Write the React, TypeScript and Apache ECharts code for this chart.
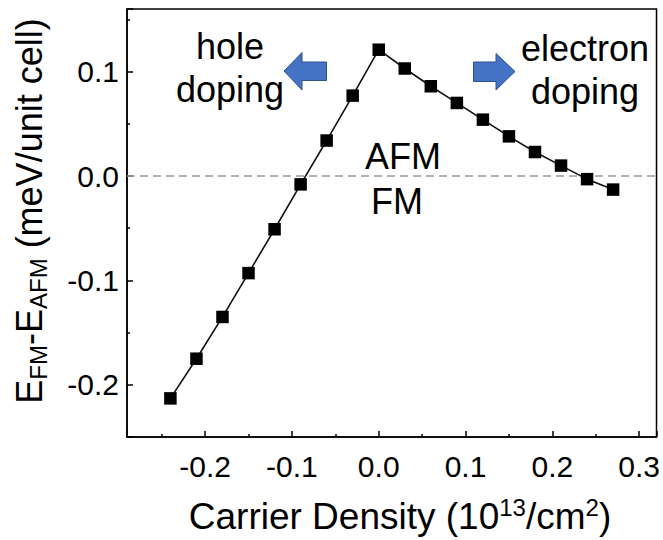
import { useEffect, useRef } from 'react';
import * as echarts from 'echarts';

const carrierDensity = [-0.24, -0.21, -0.18, -0.15, -0.12, -0.09, -0.06, -0.03, 0, 0.03, 0.06, 0.09, 0.12, 0.15, 0.18, 0.21, 0.24, 0.27];
const energyDiff = [-0.213, -0.175, -0.135, -0.093, -0.051, -0.008, 0.034, 0.077, 0.121, 0.103, 0.086, 0.07, 0.054, 0.038, 0.023, 0.01, -0.003, -0.013];
const xRange = [-0.29, 0.32];
const yRange = [-0.25, 0.16];
const xTitle = 'Carrier Density (10{sup|13}/cm{sup|2})';
const yTitle = 'E{sub|FM}-E{sub|AFM} (meV/unit cell)';
const holeLabel = 'hole\ndoping';
const electronLabel = 'electron\ndoping';
const upperPhase = 'AFM';
const lowerPhase = 'FM';

const FONT = '"Liberation Sans", Arial, Helvetica, sans-serif';

export default function App() {
  const ref = useRef<HTMLDivElement>(null);
  useEffect(() => {
    document.body.style.margin = '0';
    if (!ref.current) return;
    const chart = echarts.init(ref.current, undefined, { renderer: 'svg' });
    const axisCommon = {
      axisLine: { show: true, onZero: false, lineStyle: { color: '#000', width: 1.5 } },
      axisTick: { show: true, inside: true, length: 6, lineStyle: { color: '#000', width: 1.5 } },
      minorTick: { show: true, splitNumber: 2, length: 3, lineStyle: { color: '#000', width: 1.5 } },
      splitLine: { show: false },
      axisLabel: {
        color: '#000',
        fontSize: 30,
        fontFamily: FONT,
        showMinLabel: false,
        showMaxLabel: false,
        formatter: (v: number) => v.toFixed(1),
      },
    };
    const arrowStyle = { fill: '#4472C4', stroke: '#2F528F', lineWidth: 1 };
    const textStyle = { fill: '#000', fontSize: 36, fontFamily: FONT };
    chart.setOption({
      animation: false,
      backgroundColor: '#fff',
      grid: {
        left: 127,
        right: 4,
        top: 9,
        bottom: 103,
        show: true,
        borderColor: '#000',
        borderWidth: 1.5,
        backgroundColor: 'transparent',
      },
      xAxis: {
        type: 'value',
        min: xRange[0],
        max: xRange[1],
        ...axisCommon,
        axisLabel: { ...axisCommon.axisLabel, margin: 14 },
      },
      yAxis: {
        type: 'value',
        min: yRange[0],
        max: yRange[1],
        ...axisCommon,
        axisLabel: { ...axisCommon.axisLabel, margin: 8 },
      },
      series: [
        {
          type: 'line',
          data: carrierDensity.map((x, i) => [x, energyDiff[i]]),
          symbol: 'rect',
          symbolSize: 12.5,
          itemStyle: { color: '#000' },
          lineStyle: { color: '#111', width: 1.6 },
          z: 3,
          markLine: {
            silent: true,
            symbol: ['none', 'none'],
            label: { show: false },
            lineStyle: { color: '#9a9a9a', type: [8, 5], width: 1.5 },
            data: [{ yAxis: 0 }],
            z: 1,
          },
        },
      ],
      graphic: [
        {
          type: 'polygon',
          shape: { points: [[284, 71], [302, 52.5], [302, 62], [326.5, 62], [326.5, 80.5], [302, 80.5], [302, 90]] },
          style: arrowStyle,
        },
        {
          type: 'polygon',
          shape: { points: [[515, 71.5], [496, 53.5], [496, 62], [473.5, 62], [473.5, 81.5], [496, 81.5], [496, 90]] },
          style: arrowStyle,
        },
        {
          type: 'text',
          x: 230,
          y: 25,
          style: { ...textStyle, text: holeLabel, align: 'center', verticalAlign: 'top', lineHeight: 43 },
        },
        {
          type: 'text',
          x: 585,
          y: 26.5,
          style: { ...textStyle, text: electronLabel, align: 'center', verticalAlign: 'top', lineHeight: 43 },
        },
        {
          type: 'text',
          x: 403,
          y: 156,
          style: { ...textStyle, text: upperPhase, align: 'center', verticalAlign: 'middle' },
        },
        {
          type: 'text',
          x: 397,
          y: 201,
          style: { ...textStyle, text: lowerPhase, align: 'center', verticalAlign: 'middle' },
        },
        {
          type: 'text',
          x: 400,
          y: 516,
          style: {
            ...textStyle,
            fontSize: 37,
            text: xTitle,
            align: 'center',
            verticalAlign: 'middle',
            rich: {
              sup: { fontSize: 24, fontFamily: FONT, fill: '#000', padding: [0, 0, 18, 0] },
            },
          },
        },
        {
          type: 'text',
          x: 29.5,
          y: 211,
          rotation: Math.PI / 2,
          style: {
            ...textStyle,
            text: yTitle,
            align: 'center',
            verticalAlign: 'middle',
            rich: {
              sub: { fontSize: 24, fontFamily: FONT, fill: '#000', padding: [18, 0, 0, 0] },
            },
          },
        },
      ],
    });
    return () => chart.dispose();
  }, []);
  return <div ref={ref} style={{ width: 663, height: 540 }} />;
}
